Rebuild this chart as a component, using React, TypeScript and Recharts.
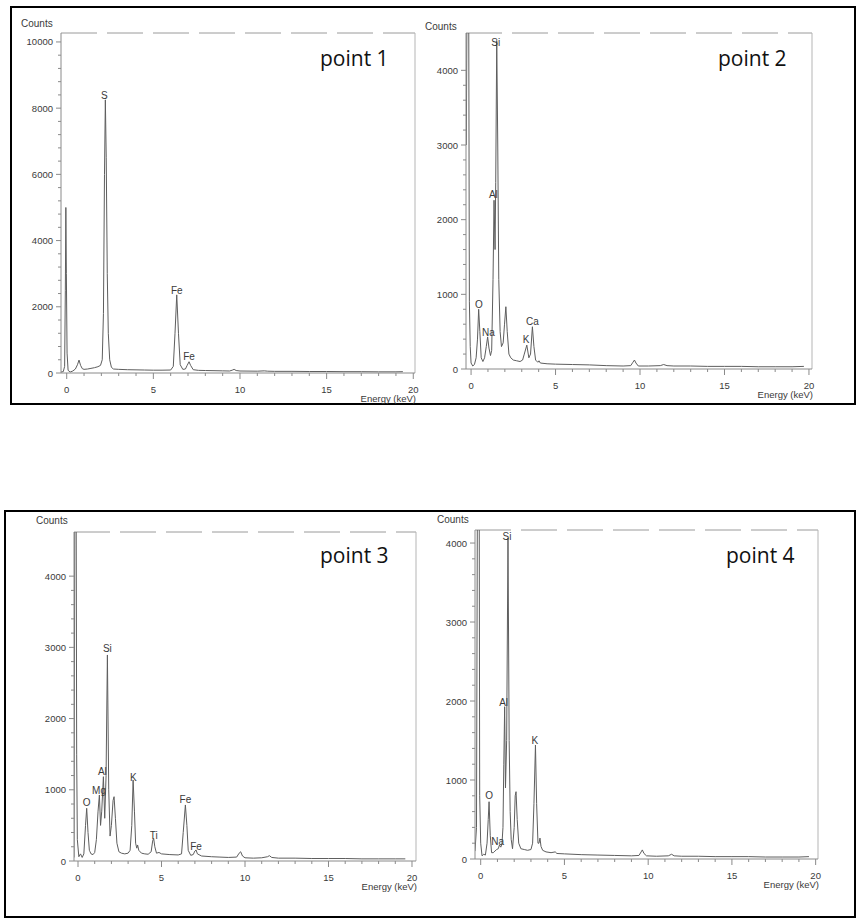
import React from 'react';
import { LineChart, Line, XAxis, YAxis, ReferenceLine, ReferenceDot } from 'recharts';

// ---------- Data ----------
// point 1
const energy1 = [-0.33, -0.2, -0.12, -0.08, -0.05, -0.02, 0.02, 0.08, 0.2, 0.35, 0.5, 0.62, 0.71, 0.8, 0.9, 1.0, 1.2, 1.4, 1.6, 1.8, 1.95, 2.05, 2.12, 2.18, 2.23, 2.28, 2.34, 2.4, 2.48, 2.58, 2.7, 3.0, 3.5, 4.0, 4.5, 5.0, 5.5, 6.0, 6.15, 6.25, 6.35, 6.45, 6.55, 6.7, 6.85, 6.95, 7.06, 7.15, 7.3, 7.6, 8.0, 8.5, 9.0, 9.4, 9.55, 9.66, 9.78, 10.0, 11.0, 11.4, 11.6, 12.0, 13.0, 14.0, 15.0, 16.0, 17.0, 18.0, 19.0, 19.4];
const counts1 = [30, 40, 200, 2500, 5000, 3000, 600, 80, 30, 60, 120, 250, 390, 230, 130, 110, 120, 140, 160, 190, 230, 400, 1800, 6000, 8250, 6500, 3000, 1200, 400, 170, 120, 110, 100, 95, 90, 85, 85, 90, 200, 1200, 2360, 1200, 250, 110, 120, 230, 340, 230, 100, 80, 75, 70, 65, 60, 85, 110, 75, 60, 55, 65, 55, 50, 50, 45, 45, 40, 40, 35, 35, 40];
const labels1 = ['S', 'Fe', 'Fe'];
const labelE1 = [2.17, 6.35, 7.06];
const labelC1 = [8380, 2508, 493];

// point 2
const energy2 = [-0.28, -0.22, -0.15, -0.1, -0.05, 0.0, 0.1, 0.2, 0.3, 0.38, 0.45, 0.52, 0.6, 0.7, 0.8, 0.9, 0.98, 1.06, 1.15, 1.22, 1.3, 1.36, 1.42, 1.46, 1.52, 1.58, 1.64, 1.72, 1.8, 1.9, 1.98, 2.06, 2.14, 2.24, 2.35, 2.5, 2.7, 2.9, 3.05, 3.15, 3.3, 3.42, 3.52, 3.63, 3.72, 3.82, 3.95, 4.02, 4.1, 4.5, 5.0, 6.0, 7.0, 8.0, 9.0, 9.45, 9.58, 9.67, 9.76, 9.9, 10.5, 11.2, 11.4, 11.6, 12.0, 13.0, 14.0, 15.0, 16.0, 17.0, 18.0, 19.0, 19.7];
const counts2 = [3000, 6000, 6000, 900, 300, 80, 40, 60, 150, 400, 800, 500, 150, 100, 150, 300, 430, 280, 180, 250, 1200, 2260, 1600, 2500, 4400, 3000, 1200, 500, 300, 350, 600, 834, 500, 200, 150, 120, 110, 100, 120, 200, 320, 150, 200, 566, 300, 120, 90, 110, 80, 70, 65, 60, 55, 45, 40, 45, 90, 120, 80, 40, 40, 45, 60, 45, 40, 40, 35, 35, 35, 30, 30, 30, 35];
const labels2 = ['O', 'Na', 'Al', 'Si', 'K', 'Ca'];
const labelE2 = [0.47, 1.03, 1.32, 1.46, 3.25, 3.63];
const labelC2 = [870, 486, 2343, 4368, 397, 633];

// point 3
const energy3 = [-0.24, -0.18, -0.12, -0.08, -0.04, 0.05, 0.15, 0.25, 0.35, 0.45, 0.52, 0.6, 0.68, 0.72, 0.78, 0.9, 1.0, 1.1, 1.2, 1.28, 1.35, 1.42, 1.52, 1.6, 1.68, 1.76, 1.84, 1.92, 2.0, 2.1, 2.16, 2.24, 2.33, 2.45, 2.6, 2.8, 3.0, 3.12, 3.22, 3.3, 3.38, 3.45, 3.52, 3.57, 3.64, 3.8, 4.0, 4.2, 4.38, 4.47, 4.53, 4.6, 4.7, 4.85, 5.0, 5.5, 6.0, 6.2, 6.3, 6.43, 6.52, 6.6, 6.75, 6.9, 7.0, 7.07, 7.15, 7.4, 8.0, 8.5, 9.0, 9.5, 9.65, 9.74, 9.85, 10.0, 10.5, 11.0, 11.35, 11.46, 11.6, 12.0, 13.0, 14.0, 15.0, 16.0, 17.0, 18.0, 19.0, 19.6];
const counts3 = [50, 6000, 6000, 1500, 300, 60, 100, 50, 100, 500, 740, 400, 150, 130, 100, 90, 120, 300, 700, 927, 500, 700, 1184, 600, 1200, 2893, 1000, 350, 500, 850, 903, 600, 250, 130, 110, 100, 110, 150, 500, 1137, 700, 250, 180, 225, 150, 110, 100, 95, 130, 280, 319, 200, 110, 120, 100, 90, 85, 100, 400, 787, 500, 150, 80, 90, 140, 155, 100, 70, 60, 55, 50, 55, 110, 130, 70, 45, 40, 45, 60, 75, 50, 40, 40, 35, 35, 35, 30, 30, 30, 30];
const labels3 = ['O', 'Mg', 'Al', 'Si', 'K', 'Ti', 'Fe', 'Fe'];
const labelE3 = [0.52, 1.26, 1.46, 1.76, 3.31, 4.53, 6.43, 7.07];
const labelC3 = [819, 997, 1264, 2978, 1170, 365, 866, 201];

// point 4
const energy4 = [-0.34, -0.25, -0.18, -0.1, -0.06, 0.0, 0.08, 0.18, 0.28, 0.38, 0.45, 0.5, 0.57, 0.65, 0.75, 0.85, 0.95, 1.05, 1.12, 1.2, 1.27, 1.33, 1.38, 1.43, 1.48, 1.55, 1.63, 1.7, 1.76, 1.82, 1.9, 2.0, 2.06, 2.11, 2.18, 2.27, 2.4, 2.6, 2.8, 3.0, 3.1, 3.18, 3.27, 3.34, 3.42, 3.48, 3.54, 3.6, 3.7, 3.9, 4.2, 4.45, 4.55, 5.0, 6.0, 7.0, 8.0, 9.0, 9.45, 9.58, 9.65, 9.75, 9.9, 10.5, 11.2, 11.4, 11.55, 12.0, 13.0, 14.0, 15.0, 16.0, 17.0, 18.0, 19.0, 19.6];
const counts4 = [100, 400, 6000, 6000, 800, 200, 40, 60, 50, 200, 500, 725, 300, 80, 80, 100, 120, 130, 177, 150, 190, 400, 1200, 1928, 900, 1500, 4063, 1500, 600, 250, 130, 400, 800, 852, 500, 200, 130, 120, 110, 120, 200, 700, 1443, 700, 200, 200, 265, 160, 110, 90, 80, 90, 70, 65, 55, 50, 45, 40, 45, 90, 115, 70, 40, 35, 40, 60, 40, 35, 35, 30, 30, 30, 25, 25, 25, 30];
const labels4 = ['O', 'Na', 'Al', 'Si', 'K'];
const labelE4 = [0.5, 1.01, 1.37, 1.57, 3.24];
const labelC4 = [810, 228, 1983, 4080, 1498];

const xTicks = [0, 1, 2, 3, 4, 5, 6, 7, 8, 9, 10, 11, 12, 13, 14, 15, 16, 17, 18, 19, 20];
const yMajor1 = [0, 2000, 4000, 6000, 8000, 10000];
const yMajor234 = [0, 1000, 2000, 3000, 4000];

const FONT = '"Liberation Sans", Arial, sans-serif';
const AXIS = '#8a8a8a';
const TXT = '#3a3a3a';

const minorTicks = (max: number, step: number) => {
  const out: number[] = [];
  for (let v = 0; v <= max + 1e-6; v += step) out.push(Math.round(v));
  return out;
};

type PanelProps = {
  energy: number[];
  counts: number[];
  labels: string[];
  labelE: number[];
  labelC: number[];
  plotLeft: number;
  plotTop: number;
  plotRight: number;
  plotBottom: number;
  xMin: number;
  xMax: number;
  yMax: number;
  yMajor: number[];
  yMinorStep: number;
  title: string;
  titleX: number;
  titleY: number;
  countsX: number;
  countsY: number;
};

const YW = 60;
const XH = 40;
const MT = 10;
const MR = 10;

function Panel(p: PanelProps) {
  const data = p.energy.map((e, i) => ({ e, c: p.counts[i] }));
  const width = p.plotRight - p.plotLeft + YW + MR;
  const height = p.plotBottom - p.plotTop + MT + XH;
  const axisY = height - XH;
  const majorSet = new Set(p.yMajor);
  const yTicks = minorTicks(p.yMajor[p.yMajor.length - 1], p.yMinorStep);

  const XTick = (props: any) => {
    const { x, payload } = props;
    const v = payload.value;
    const major = v % 5 === 0;
    return (
      <g>
        <line x1={x} x2={x} y1={axisY} y2={axisY + (major ? 6 : 3)} stroke={AXIS} strokeWidth={1} />
        {major && (
          <text x={x} y={axisY + 16} textAnchor="middle" dominantBaseline="central" fontSize={9.5} fill={TXT} fontFamily={FONT}>
            {v}
          </text>
        )}
      </g>
    );
  };

  const YTick = (props: any) => {
    const { y, payload } = props;
    const v = payload.value;
    const major = majorSet.has(v);
    return (
      <g>
        <line x1={YW - (major ? 5 : 3)} x2={YW} y1={y} y2={y} stroke={AXIS} strokeWidth={1} />
        {major && (
          <text x={YW - 8} y={y} textAnchor="end" dominantBaseline="central" fontSize={9.5} fill={TXT} fontFamily={FONT}>
            {v}
          </text>
        )}
      </g>
    );
  };

  return (
    <>
      <div style={{ position: 'absolute', left: p.plotLeft - YW, top: p.plotTop - MT, width, height }}>
        <LineChart width={width} height={height} data={data} margin={{ top: MT, right: MR, bottom: 0, left: 0 }}>
          <XAxis
            type="number"
            dataKey="e"
            domain={[p.xMin, p.xMax]}
            allowDataOverflow
            ticks={xTicks}
            interval={0}
            height={XH}
            tick={<XTick />}
            tickLine={false}
            tickSize={0}
            axisLine={{ stroke: AXIS, strokeWidth: 1 }}
          />
          <YAxis
            type="number"
            domain={[0, p.yMax]}
            allowDataOverflow
            ticks={yTicks}
            interval={0}
            width={YW}
            tick={<YTick />}
            tickLine={false}
            tickSize={0}
            axisLine={{ stroke: AXIS, strokeWidth: 1 }}
          />
          <ReferenceLine y={p.yMax} stroke="#9a9a9a" strokeDasharray="36 10" strokeWidth={1} />
          <ReferenceLine x={p.xMax} stroke="#b5b5b5" strokeWidth={1} />
          <Line
            type="linear"
            dataKey="c"
            stroke="#5e5e5e"
            strokeWidth={1}
            dot={false}
            isAnimationActive={false}
          />
          {p.labels.map((l, i) => (
            <ReferenceDot
              key={i}
              x={p.labelE[i]}
              y={p.labelC[i]}
              r={0}
              fill="none"
              stroke="none"
              label={{ value: l, position: 'center', fontSize: 10, fill: TXT, fontFamily: FONT }}
            />
          ))}
        </LineChart>
      </div>
      <div style={{ position: 'absolute', left: p.countsX, top: p.countsY - 7, fontFamily: FONT, fontSize: 10, lineHeight: '14px', color: TXT }}>
        Counts
      </div>
      <div
        style={{
          position: 'absolute',
          left: p.plotRight - 120,
          width: 121,
          textAlign: 'right',
          top: p.plotBottom + 26 - 7,
          fontFamily: FONT,
          fontSize: 9.5,
          lineHeight: '14px',
          color: TXT,
        }}
      >
        Energy (keV)
      </div>
      <div
        style={{
          position: 'absolute',
          left: p.titleX,
          top: p.titleY - 15,
          fontFamily: '"Open Sans", "Noto Sans", sans-serif',
          fontSize: 21,
          lineHeight: '30px',
          color: '#111',
          whiteSpace: 'nowrap',
        }}
      >
        {p.title}
      </div>
    </>
  );
}

export default function App() {
  return (
    <div style={{ position: 'absolute', left: 0, top: 0, width: 859, height: 920, background: '#fff', overflow: 'hidden' }}>
      <div style={{ position: 'absolute', left: 10, top: 6, width: 846, height: 399, border: '2px solid #000', boxSizing: 'border-box' }} />
      <div style={{ position: 'absolute', left: 4, top: 510, width: 852, height: 408, border: '2px solid #000', boxSizing: 'border-box' }} />
      <Panel
        energy={energy1}
        counts={counts1}
        labels={labels1}
        labelE={labelE1}
        labelC={labelC1}
        plotLeft={61}
        plotTop={33}
        plotRight={415}
        plotBottom={373}
        xMin={-0.33}
        xMax={20.1}
        yMax={10270}
        yMajor={yMajor1}
        yMinorStep={400}
        title="point 1"
        titleX={320}
        titleY={58}
        countsX={21}
        countsY={24}
      />
      <Panel
        energy={energy2}
        counts={counts2}
        labels={labels2}
        labelE={labelE2}
        labelC={labelC2}
        plotLeft={466}
        plotTop={33}
        plotRight={812}
        plotBottom={369}
        xMin={-0.3}
        xMax={20.18}
        yMax={4500}
        yMajor={yMajor234}
        yMinorStep={200}
        title="point 2"
        titleX={718}
        titleY={58}
        countsX={425}
        countsY={27}
      />
      <Panel
        energy={energy3}
        counts={counts3}
        labels={labels3}
        labelE={labelE3}
        labelC={labelC3}
        plotLeft={74}
        plotTop={532}
        plotRight={416}
        plotBottom={861}
        xMin={-0.24}
        xMax={20.24}
        yMax={4620}
        yMajor={yMajor234}
        yMinorStep={200}
        title="point 3"
        titleX={320}
        titleY={555}
        countsX={36}
        countsY={521}
      />
      <Panel
        energy={energy4}
        counts={counts4}
        labels={labels4}
        labelE={labelE4}
        labelC={labelC4}
        plotLeft={475}
        plotTop={530}
        plotRight={818}
        plotBottom={859}
        xMin={-0.34}
        xMax={20.14}
        yMax={4165}
        yMajor={yMajor234}
        yMinorStep={200}
        title="point 4"
        titleX={726}
        titleY={555}
        countsX={437}
        countsY={520}
      />
    </div>
  );
}
